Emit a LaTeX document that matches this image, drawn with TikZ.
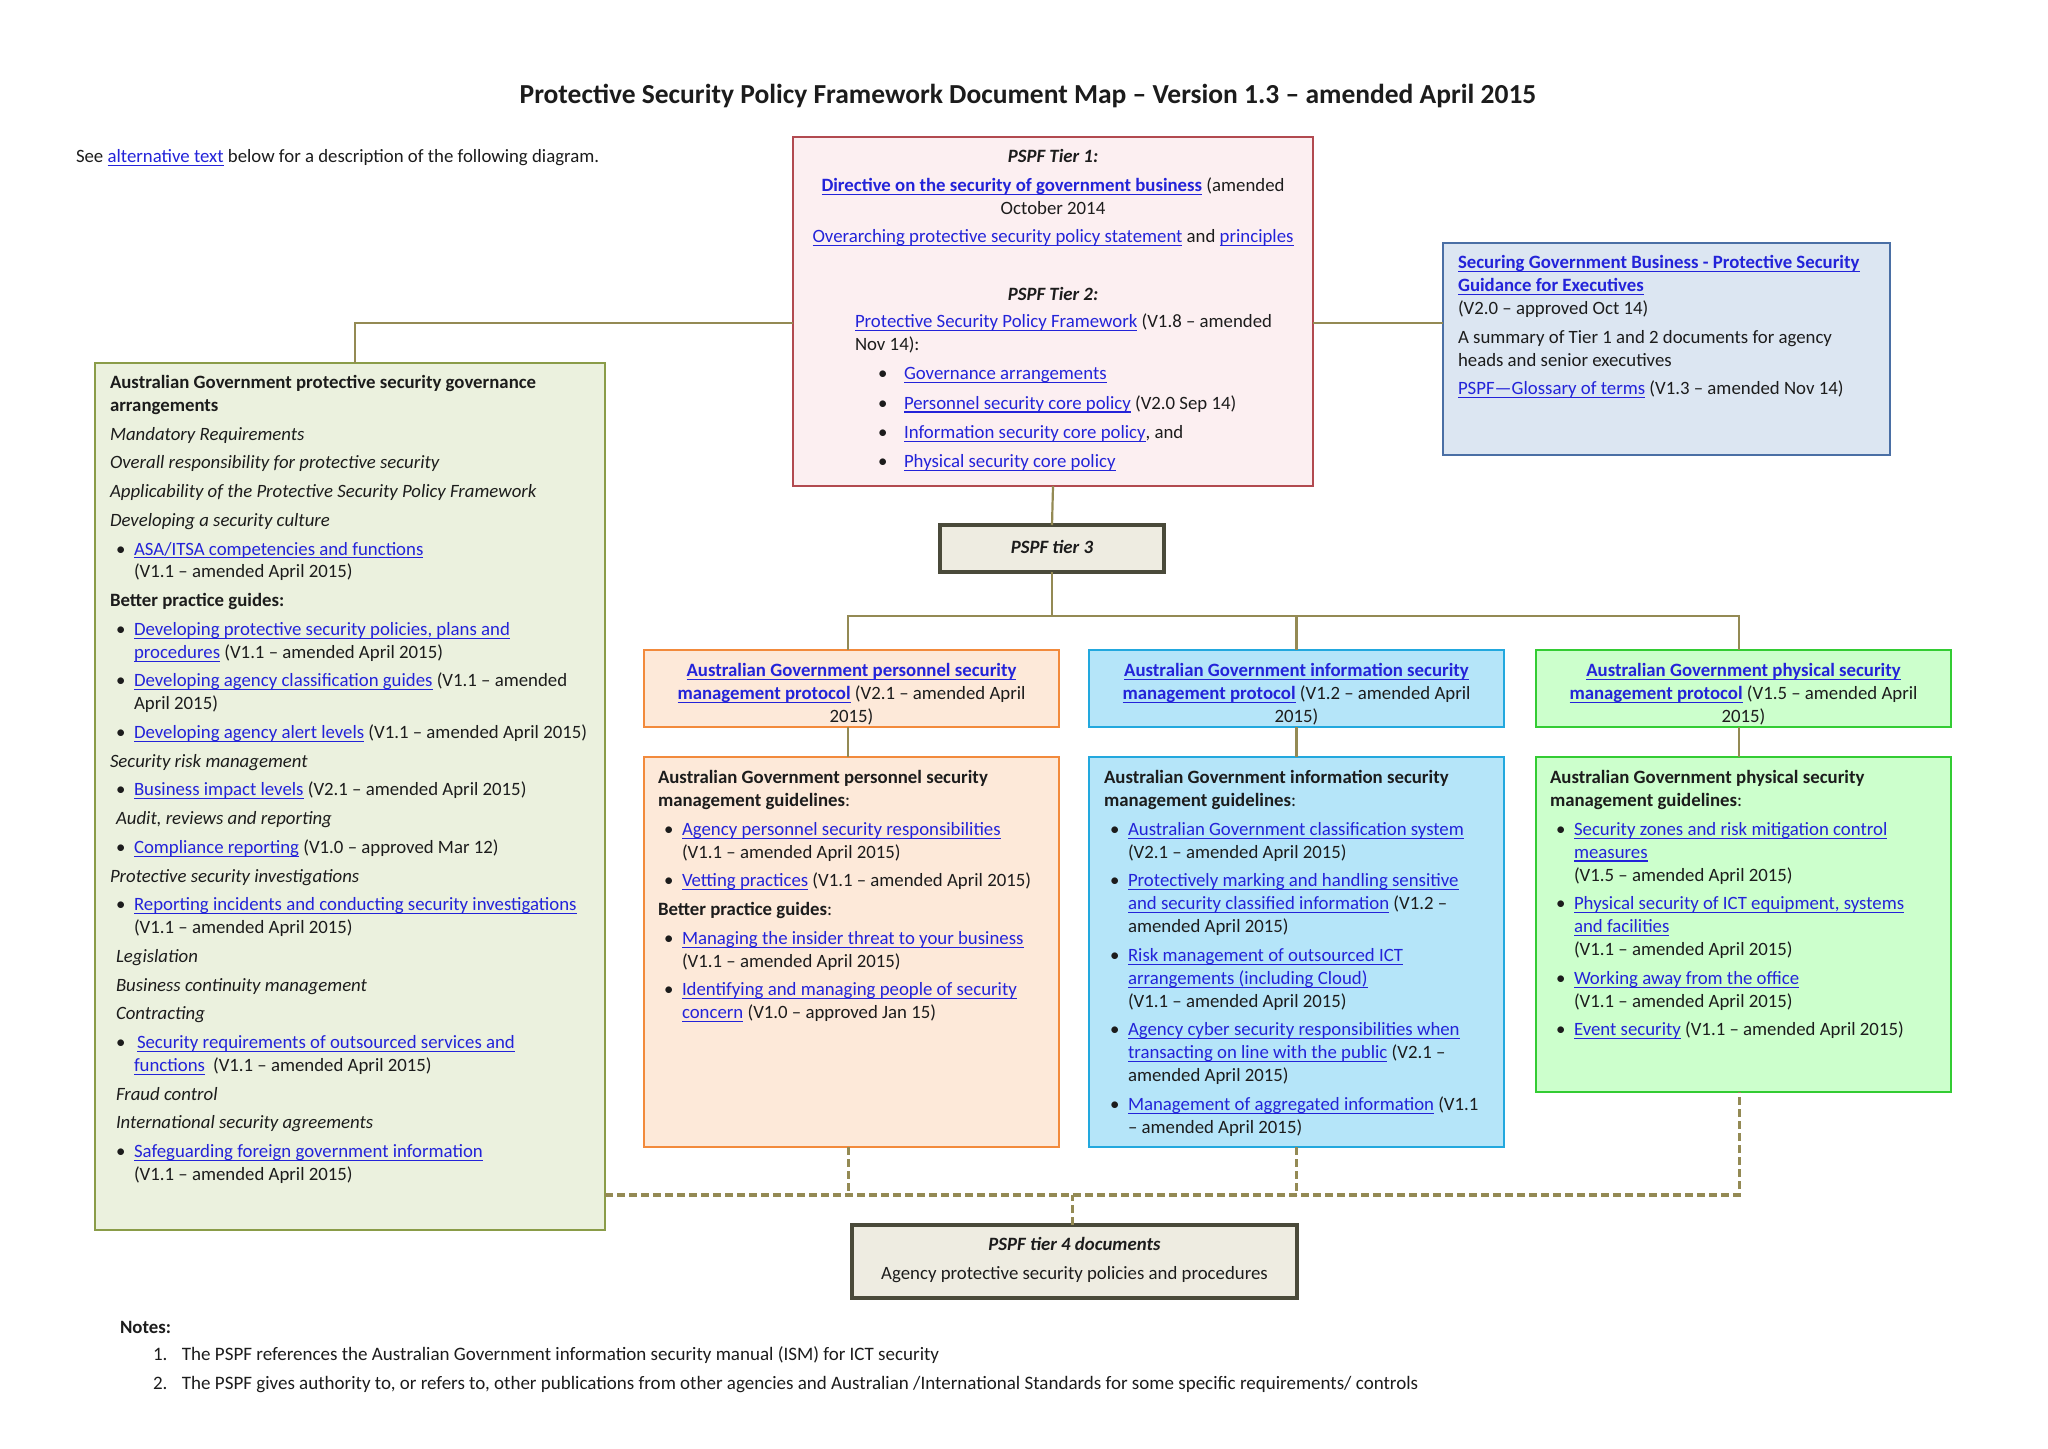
\documentclass[tikz,border=0pt]{standalone}
\usepackage{fontspec}
\setmainfont{Carlito}
\definecolor{lnk}{HTML}{2323D9}
\definecolor{txt}{HTML}{1C1C1C}
\definecolor{conncol}{HTML}{948A54}
\definecolor{tfill}{HTML}{FCEFF1}
\definecolor{tdraw}{HTML}{B24A50}
\definecolor{efill}{HTML}{DCE6F2}
\definecolor{edraw}{HTML}{4A6FA5}
\definecolor{gfill}{HTML}{EBF1DE}
\definecolor{gdraw}{HTML}{8A9C48}
\definecolor{nfill}{HTML}{EEECE1}
\definecolor{ndraw}{HTML}{4A4A3A}
\definecolor{ofill}{HTML}{FDE9D9}
\definecolor{odraw}{HTML}{F28A3C}
\definecolor{bfill}{HTML}{B5E5F9}
\definecolor{bdraw}{HTML}{22A8DE}
\definecolor{pfill}{HTML}{CCFFCC}
\definecolor{pdraw}{HTML}{33CC33}
\newcommand\bodyf{\fontsize{9.4}{11.45}\selectfont}
\newcommand\titlef{\fontsize{13.75}{16}\selectfont\bfseries}
\newsavebox\lkbox
\newcommand\lk[1]{\begingroup\color{lnk}\sbox\lkbox{#1}\rlap{\rule[-1.7pt]{\wd\lkbox}{0.55pt}}\usebox\lkbox\endgroup}
\newcommand\lkb[1]{\lk{\bfseries #1}}
\newcommand\BI[1]{\hspace*{3pt}\makebox[9pt][l]{\textbullet}#1}
\newcommand\CI[1]{\hspace*{12pt}#1}
\newcommand\TB[1]{\hspace*{11.5pt}\makebox[13pt][l]{\textbullet}#1}
\begin{document}
\begin{tikzpicture}[x=0.5pt,y=-0.5pt,
  every node/.style={inner sep=0pt,outer sep=0pt,text=txt,font=\bodyf},
  sz/.style 2 args={minimum width=#1*0.5pt,minimum height=#2*0.5pt,anchor=north west},
  bx/.style={draw,line width=1.3pt},
  tx/.style={anchor=base west,yshift=-1.3pt},
  tc/.style={anchor=base,yshift=-1.3pt},
  conn/.style={draw=conncol,line width=1.1pt},
  dconn/.style={draw=conncol,line width=1.6pt,dash pattern=on 4pt off 2pt}]
\useasboundingbox (0,0) rectangle (2048,1448);
\fill[white] (0,0) rectangle (2048,1448);

% boxes
\node[bx,draw=tdraw,fill=tfill,sz={520}{349}] (t12) at (793,137) {};
\node[bx,draw=edraw,fill=efill,sz={447}{212}] (exec) at (1443,243) {};
\node[bx,draw=gdraw,fill=gfill,sz={510}{867}] (gov) at (95,363) {};
\node[bx,draw=ndraw,fill=nfill,line width=1.6pt,sz={224}{47}] (t3) at (940,525) {};
\node[bx,draw=odraw,fill=ofill,sz={415}{77}] (protP) at (644,650) {};
\node[bx,draw=bdraw,fill=bfill,sz={415}{77}] (protI) at (1089,650) {};
\node[bx,draw=pdraw,fill=pfill,sz={415}{77}] (protF) at (1536,650) {};
\node[bx,draw=odraw,fill=ofill,sz={415}{390}] (guideP) at (644,757) {};
\node[bx,draw=bdraw,fill=bfill,sz={415}{390}] (guideI) at (1089,757) {};
\node[bx,draw=pdraw,fill=pfill,sz={415}{335}] (guideF) at (1536,757) {};
\node[bx,draw=ndraw,fill=nfill,line width=1.6pt,sz={445}{73}] (t4) at (852,1225) {};

% connector anchor points
\coordinate (yl) at (0,323);
\coordinate (hub) at (1052,616);
\coordinate (dl) at (0,1195);
\coordinate (gN) at ([xshift=2.5pt]gov.north);
\coordinate (pPN) at ([xshift=-1.7pt]protP.north);
\coordinate (pPS) at ([xshift=-1.7pt]protP.south);
\coordinate (gPN) at ([xshift=-1.7pt]guideP.north);
\coordinate (gPS) at ([xshift=-1.7pt]guideP.south);
\coordinate (pFN) at ([xshift=-2.2pt]protF.north);
\coordinate (pFS) at ([xshift=-2.2pt]protF.south);
\coordinate (gFN) at ([xshift=-2.2pt]guideF.north);
\coordinate (gFS) at ([xshift=-2.2pt]guideF.south);
\coordinate (t4N) at ([xshift=-1.2pt]t4.north);

% connectors
\draw[conn] (t12.west |- yl) -| (gN);
\draw[conn] (t12.east |- yl) -- (exec.west |- yl);
\draw[conn] (t12.south) -- (t3.north);
\draw[conn] (t3.south) -- (t3.south |- hub);
\draw[conn] (pPN) -- (pPN |- hub) -- (pFN |- hub) -- (pFN);
\draw[conn] (protI.north) -- (protI.north |- hub);
\draw[conn] (pPS) -- (gPN);
\draw[conn] (protI.south) -- (guideI.north);
\draw[conn] (pFS) -- (gFN);
\draw[dconn] (gov.east |- dl) -- (gFS |- dl) -- (gFS);
\draw[dconn] (gPS) -- (gPS |- dl);
\draw[dconn] (guideI.south) -- (guideI.south |- dl);
\draw[dconn] (t4N) -- (t4N |- dl);

% texts
\node[tc,font=\titlef] (title) at (1028,100.5) {Protective Security Policy Framework Document Map – Version 1.3 – amended April 2015};
\node[tx] (see) at (76,160) {See \lk{alternative text} below for a description of the following diagram.};

\node[tc] (tier1txt) at (1053,160) {\begin{tabular}[t]{@{}c@{}}
\textbf{\textit{PSPF Tier 1:}}\\[2.9pt]
\lkb{Directive on the security of government business} (amended\\
October 2014\\[2.9pt]
\lk{Overarching protective security policy statement} and \lk{principles}
\end{tabular}};
\node[tc] (tier2head) at (1053,298) {\textbf{\textit{PSPF Tier 2:}}};
\node[tx] (tier2txt) at (855,325) {\begin{tabular}[t]{@{}l@{}}
\lk{Protective Security Policy Framework} (V1.8 – amended\\
Nov 14):\\[3.2pt]
\TB{\lk{Governance arrangements}}\\[3.2pt]
\TB{\lk{Personnel security core policy} (V2.0 Sep 14)}\\[3.2pt]
\TB{\lk{Information security core policy}, and}\\[3.2pt]
\TB{\lk{Physical security core policy}}
\end{tabular}};

\node[tx] (exectxt) at (1458,266) {\begin{tabular}[t]{@{}l@{}}
\lkb{Securing Government Business - Protective Security}\\
\lkb{Guidance for Executives}\\
(V2.0 – approved Oct 14)\\[2.9pt]
A summary of Tier 1 and 2 documents for agency\\
heads and senior executives\\[2.9pt]
\lk{PSPF—Glossary of terms} (V1.3 – amended Nov 14)
\end{tabular}};

\node[tx] (govtxt) at (110,386) {\begin{tabular}[t]{@{}l@{}}
\textbf{Australian Government protective security governance}\\
\textbf{arrangements}\\[2.9pt]
\textit{Mandatory Requirements}\\[2.9pt]
\textit{Overall responsibility for protective security}\\[2.9pt]
\textit{Applicability of the Protective Security Policy Framework}\\[2.9pt]
\textit{Developing a security culture}\\[2.9pt]
\BI{\lk{ASA/ITSA competencies and functions}}\\
\CI{(V1.1 – amended April 2015)}\\[2.9pt]
\textbf{Better practice guides:}\\[2.9pt]
\BI{\lk{Developing protective security policies, plans and}}\\
\CI{\lk{procedures} (V1.1 – amended April 2015)}\\[2.9pt]
\BI{\lk{Developing agency classification guides} (V1.1 – amended}\\
\CI{April 2015)}\\[2.9pt]
\BI{\lk{Developing agency alert levels} (V1.1 – amended April 2015)}\\[2.9pt]
\textit{Security risk management}\\[2.9pt]
\BI{\lk{Business impact levels} (V2.1 – amended April 2015)}\\[2.9pt]
\hspace*{3pt}\textit{Audit, reviews and reporting}\\[2.9pt]
\BI{\lk{Compliance reporting} (V1.0 – approved Mar 12)}\\[2.9pt]
\textit{Protective security investigations}\\[2.9pt]
\BI{\lk{Reporting incidents and conducting security investigations}}\\
\CI{(V1.1 – amended April 2015)}\\[2.9pt]
\hspace*{3pt}\textit{Legislation}\\[2.9pt]
\hspace*{3pt}\textit{Business continuity management}\\[2.9pt]
\hspace*{3pt}\textit{Contracting}\\[2.9pt]
\BI{\hspace*{1.5pt}\lk{Security requirements of outsourced services and}}\\
\CI{\lk{functions}\hspace*{4pt}(V1.1 – amended April 2015)}\\[2.9pt]
\hspace*{3pt}\textit{Fraud control}\\[2.9pt]
\hspace*{3pt}\textit{International security agreements}\\[2.9pt]
\BI{\lk{Safeguarding foreign government information}}\\
\CI{(V1.1 – amended April 2015)}
\end{tabular}};

\node[tc] (tier3txt) at (1052,551) {\textbf{\textit{PSPF tier 3}}};

\node[tc] (protPtxt) at (851.5,674) {\begin{tabular}[t]{@{}c@{}}
\lkb{Australian Government personnel security}\\
\lkb{management protocol} (V2.1 – amended April\\
2015)
\end{tabular}};
\node[tc] (protItxt) at (1296.5,674) {\begin{tabular}[t]{@{}c@{}}
\lkb{Australian Government information security}\\
\lkb{management protocol} (V1.2 – amended April\\
2015)
\end{tabular}};
\node[tc] (protFtxt) at (1743.5,674) {\begin{tabular}[t]{@{}c@{}}
\lkb{Australian Government physical security}\\
\lkb{management protocol} (V1.5 – amended April\\
2015)
\end{tabular}};

\node[tx] (guidePtxt) at (658,781) {\begin{tabular}[t]{@{}l@{}}
\textbf{Australian Government personnel security}\\
\textbf{management guidelines}:\\[2.9pt]
\BI{\lk{Agency personnel security responsibilities}}\\
\CI{(V1.1 – amended April 2015)}\\[2.9pt]
\BI{\lk{Vetting practices} (V1.1 – amended April 2015)}\\[2.9pt]
\textbf{Better practice guides}:\\[2.9pt]
\BI{\lk{Managing the insider threat to your business}}\\
\CI{(V1.1 – amended April 2015)}\\[2.9pt]
\BI{\lk{Identifying and managing people of security}}\\
\CI{\lk{concern} (V1.0 – approved Jan 15)}
\end{tabular}};

\node[tx] (guideItxt) at (1104,781) {\begin{tabular}[t]{@{}l@{}}
\textbf{Australian Government information security}\\
\textbf{management guidelines}:\\[2.9pt]
\BI{\lk{Australian Government classification system}}\\
\CI{(V2.1 – amended April 2015)}\\[2.9pt]
\BI{\lk{Protectively marking and handling sensitive}}\\
\CI{\lk{and security classified information} (V1.2 –}\\
\CI{amended April 2015)}\\[2.9pt]
\BI{\lk{Risk management of outsourced ICT}}\\
\CI{\lk{arrangements (including Cloud)}}\\
\CI{(V1.1 – amended April 2015)}\\[2.9pt]
\BI{\lk{Agency cyber security responsibilities when}}\\
\CI{\lk{transacting on line with the public} (V2.1 –}\\
\CI{amended April 2015)}\\[2.9pt]
\BI{\lk{Management of aggregated information} (V1.1}\\
\CI{– amended April 2015)}
\end{tabular}};

\node[tx] (guideFtxt) at (1550,781) {\begin{tabular}[t]{@{}l@{}}
\textbf{Australian Government physical security}\\
\textbf{management guidelines}:\\[2.9pt]
\BI{\lk{Security zones and risk mitigation control}}\\
\CI{\lk{measures}}\\
\CI{(V1.5 – amended April 2015)}\\[2.9pt]
\BI{\lk{Physical security of ICT equipment, systems}}\\
\CI{\lk{and facilities}}\\
\CI{(V1.1 – amended April 2015)}\\[2.9pt]
\BI{\lk{Working away from the office}}\\
\CI{(V1.1 – amended April 2015)}\\[2.9pt]
\BI{\lk{Event security} (V1.1 – amended April 2015)}
\end{tabular}};

\node[tc] (tier4txt) at (1074.5,1248) {\begin{tabular}[t]{@{}c@{}}
\textbf{\textit{PSPF tier 4 documents}}\\[2.9pt]
Agency protective security policies and procedures
\end{tabular}};

\node[tx] (noteshead) at (120,1331) {\textbf{Notes:}};
\node[tx,font=\fontsize{9.5}{11.45}\selectfont] (notes) at (153,1358) {\begin{tabular}[t]{@{}l@{}}
\makebox[14.5pt][l]{1.}The PSPF references the Australian Government information security manual (ISM) for ICT security\\[2.9pt]
\makebox[14.5pt][l]{2.}The PSPF gives authority to, or refers to, other publications from other agencies and Australian /International Standards for some specific requirements/ controls
\end{tabular}};
\end{tikzpicture}
\end{document}
